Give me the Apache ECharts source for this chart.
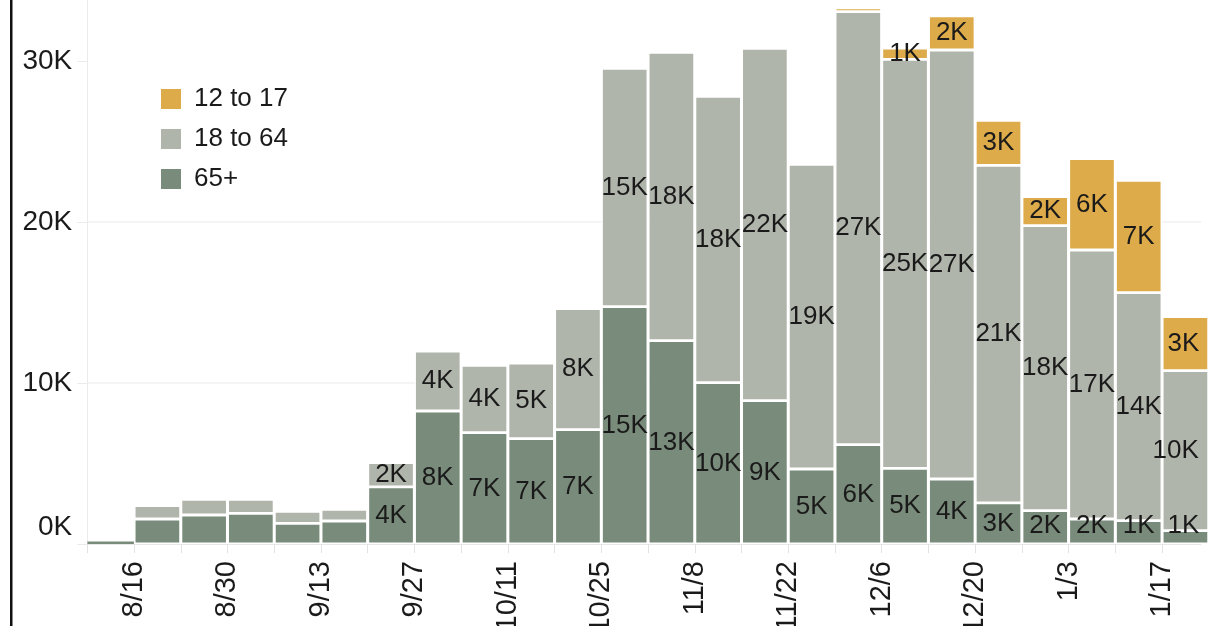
<!DOCTYPE html>
<html>
<head>
<meta charset="utf-8">
<script src="https://cdn.jsdelivr.net/npm/echarts@6/dist/echarts.min.js"></script>
<style>
html,body{margin:0;padding:0;background:#fff;overflow:hidden;}
#c{width:1209px;height:626px;}
</style>
</head>
<body>
<div id="c"></div>
<script>
// Week starting dates (one bar per week)
const weeks = ['8/9','8/16','8/23','8/30','9/6','9/13','9/20','9/27','10/4','10/11','10/18','10/25',
  '11/1','11/8','11/15','11/22','11/29','12/6','12/13','12/20','12/27','1/3','1/10','1/17'];
const age65plus = [150,1553,1801,1905,1284,1428,3550,8261,6913,6540,7100,14741,
  12627,10019,8901,4658,6168,4702,4037,2550,2068,1553,1447,826];
const age18to64 = [0,830,975,870,746,727,1500,3727,4186,4702,7520,14806,
  17913,17788,21888,18926,26894,25404,26646,20972,17702,16708,14162,9938];
const age12to17 = [0,0,0,0,0,0,0,0,0,0,0,0,
  0,0,0,0,248,702,2130,2795,1801,5671,6981,3354];
const yTicks = [0, 10000, 20000, 30000];

const colors = {'65+':'#798b7a','18 to 64':'#b0b5ab','12 to 17':'#ddab4a'};
const FONT = '"Liberation Sans", Arial, sans-serif';
const PX_PER_UNIT = 544 / 33790; // plot height / y max, used only to nudge labels

// The axis is split into sixths of a week so that the plot can end part-way
// through the last week (as in the original, where the last bar is cut off).
const SUB = 6;
const SLOTS = 144; // 23.83 weeks visible -> 143 intervals
const slots = [];
for (let s = 0; s < SLOTS; s++) {
  const w = Math.floor(s / SUB);
  slots.push((s % SUB === 0 && w < weeks.length ? weeks[w] : '') + '#' + s);
}
const fmtK = v => Math.round(v / 1000) + 'K';

function mk(name, vals, isBottom) {
  const data = new Array(SLOTS).fill('-');
  vals.forEach((v, i) => {
    const item = {value: v, label: {show: i >= 6 && v >= 500}};
    if (v < 200) item.itemStyle = {borderWidth: 0};
    let dx = 0, dy = 0;
    if (i === vals.length - 1) {
      // keep labels of the cut-off last bar inside the plot, like the original
      const w = fmtK(v).length * 15.5;
      dx = Math.min(0, 1199 - w / 2 - 1185.5);
    }
    if (isBottom) {
      // labels of thin bottom segments are kept clear of the baseline
      const centre = 544 - v * PX_PER_UNIT / 2;
      dy = Math.min(0, 526 - centre);
    }
    if (dx || dy) item.label.offset = [dx, dy];
    data[i * SUB + SUB / 2] = item;
  });
  return {
    name: name,
    type: 'bar',
    stack: 'total',
    barWidth: 46.5,
    clip: true,
    itemStyle: {color: colors[name], borderColor: '#ffffff', borderWidth: 1.4},
    label: {
      position: 'inside',
      color: '#1a1a1a',
      fontFamily: FONT,
      fontSize: 26,
      formatter: p => fmtK(p.value)
    },
    emphasis: {disabled: true},
    data: data
  };
}

const chart = echarts.init(document.getElementById('c'), null, {renderer: 'canvas'});
chart.setOption({
  animation: false,
  backgroundColor: '#ffffff',
  grid: {left: 87.3, right: 8, top: 0, bottom: 82, containLabel: false, outerBoundsMode: 'none'},
  legend: {
    orient: 'vertical',
    left: 159, top: 86,
    padding: 0,
    itemWidth: 22, itemHeight: 22, itemGap: 14,
    icon: 'rect',
    data: ['12 to 17', '18 to 64', '65+'],
    textStyle: {fontFamily: FONT, fontSize: 26, color: '#1a1a1a', padding: [0,0,0,7]},
    selectedMode: false
  },
  xAxis: {
    type: 'category',
    data: slots,
    boundaryGap: false,
    splitLine: {show: false},
    axisLine: {show: true, lineStyle: {color: '#e8e8e8', width: 1}},
    axisTick: {show: true, length: 9, lineStyle: {color: '#e3e3e3'},
      interval: idx => idx % SUB === 0},
    axisLabel: {
      rotate: 90,
      margin: 17,
      fontFamily: FONT,
      fontSize: 29,
      color: '#1a1a1a',
      interval: idx => idx % (2 * SUB) === SUB,
      formatter: v => v.split('#')[0]
    }
  },
  yAxis: {
    type: 'value',
    min: 0,
    max: 33790,
    interval: 10000,
    axisLine: {show: true, lineStyle: {color: '#ebebeb'}},
    axisTick: {show: true, length: 10, lineStyle: {color: '#ebebeb'}, customValues: yTicks},
    splitLine: {show: true, showMaxLine: false, lineStyle: {color: '#f0f0f0', width: 1.5}},
    axisLabel: {
      margin: 15,
      fontFamily: FONT,
      fontSize: 28,
      color: '#1a1a1a',
      customValues: yTicks,
      formatter: v => v === 0 ? '{z|0K}' : (v / 1000) + 'K',
      rich: {z: {fontFamily: FONT, fontSize: 28, color: '#1a1a1a', padding: [0, 0, 34, 0]}}
    }
  },
  graphic: [{
    type: 'rect',
    left: 10, top: 0,
    shape: {width: 2.5, height: 626},
    style: {fill: '#111'},
    silent: true
  }],
  series: [
    mk('65+', age65plus, true),
    mk('18 to 64', age18to64, false),
    mk('12 to 17', age12to17, false)
  ]
});
</script>
</body>
</html>
